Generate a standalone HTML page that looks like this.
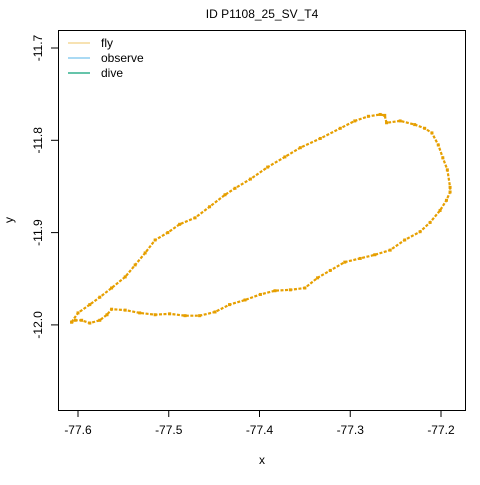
<!DOCTYPE html>
<html><head><meta charset="utf-8"><style>
body{margin:0;background:#fff}
svg text{font-family:"Liberation Sans",sans-serif;font-size:12px;fill:#000}
</style></head><body>
<svg width="480" height="480">
<text x="262" y="18" text-anchor="middle">ID P1108_25_SV_T4</text>
<rect x="58.5" y="30.5" width="407" height="380" fill="none" stroke="#000"/>
<g id="xaxis"></g>
<g id="yaxis"></g>
<text x="262" y="464" text-anchor="middle">x</text>
<text transform="translate(13,220) rotate(-90)" text-anchor="middle">y</text>
<g>
<line x1="68" x2="90" y1="43" y2="43" stroke="#E69F00" opacity="0.6"/>
<text x="101" y="47">fly</text>
<line x1="68" x2="90" y1="58" y2="58" stroke="#56B4E9"/>
<text x="101" y="62">observe</text>
<line x1="68" x2="90" y1="73" y2="73" stroke="#009E73" opacity="0.6" stroke-width="2"/>
<text x="101" y="77">dive</text>
</g>
<g id="track"></g>
</svg>
<script>
const lon=[-77.607,-77.600,-77.587,-77.576,-77.563,-77.548,-77.537,-77.526,-77.515,-77.501,-77.488,-77.471,-77.455,-77.438,-77.427,-77.410,-77.391,-77.372,-77.355,-77.333,-77.311,-77.295,-77.280,-77.267,-77.262,-77.260,-77.245,-77.229,-77.218,-77.210,-77.203,-77.198,-77.193,-77.190,-77.190,-77.194,-77.201,-77.212,-77.223,-77.240,-77.256,-77.273,-77.289,-77.306,-77.322,-77.336,-77.350,-77.366,-77.383,-77.399,-77.416,-77.433,-77.449,-77.466,-77.482,-77.499,-77.515,-77.532,-77.548,-77.563,-77.568,-77.576,-77.587,-77.596,-77.603,-77.607];
const lat=[-11.997,-11.987,-11.978,-11.970,-11.960,-11.948,-11.935,-11.922,-11.908,-11.900,-11.891,-11.884,-11.872,-11.859,-11.852,-11.842,-11.829,-11.818,-11.808,-11.798,-11.787,-11.779,-11.774,-11.772,-11.773,-11.781,-11.779,-11.783,-11.787,-11.792,-11.805,-11.819,-11.832,-11.851,-11.856,-11.865,-11.876,-11.889,-11.899,-11.908,-11.919,-11.924,-11.928,-11.932,-11.941,-11.949,-11.960,-11.962,-11.963,-11.967,-11.973,-11.978,-11.986,-11.990,-11.990,-11.988,-11.989,-11.987,-11.984,-11.983,-11.989,-11.995,-11.998,-11.995,-11.995,-11.997];
const xTicks=[-77.6,-77.5,-77.4,-77.3,-77.2];
const yTicks=[-11.7,-11.8,-11.9,-12.0];
const NS="http://www.w3.org/2000/svg";
const sx=v=>78+(v+77.6)*907.5;
const sy=v=>48-(v+11.7)*923;
function mk(t,a,p){const e=document.createElementNS(NS,t);for(const k in a)e.setAttribute(k,a[k]);p.appendChild(e);return e;}
const xa=document.getElementById('xaxis'),ya=document.getElementById('yaxis'),tr=document.getElementById('track');
xTicks.forEach(v=>{const x=sx(v);
 const l=mk('line',{x1:x,x2:x,y1:410,y2:417,stroke:'#000'},xa);
 
 
 const t=mk('text',{x:x,y:434,'text-anchor':'middle'},xa);t.textContent=v.toFixed(1);
 
 
});
yTicks.forEach(v=>{const y=sy(v);
 const l=mk('line',{x1:51,x2:58,y1:y,y2:y,stroke:'#000'},ya);
 
 
 const t=mk('text',{transform:`translate(42,${y}) rotate(-90)`,'text-anchor':'middle'},ya);t.textContent=v.toFixed(1);
 
 
});
const pts=lon.map((v,i)=>sx(v).toFixed(1)+','+sy(lat[i]).toFixed(1)).join(' ');
const pl=mk('polyline',{points:pts,fill:'none',stroke:'#E69F00','stroke-width':2.2,'stroke-dasharray':'3 1.5'},tr);


lon.forEach((v,i)=>{
 const r=mk('rect',{x:sx(v)-1.5,y:sy(lat[i])-1.5,width:3,height:3,fill:'#E69F00'},tr);
 
 
});
</script>
</body></html>
